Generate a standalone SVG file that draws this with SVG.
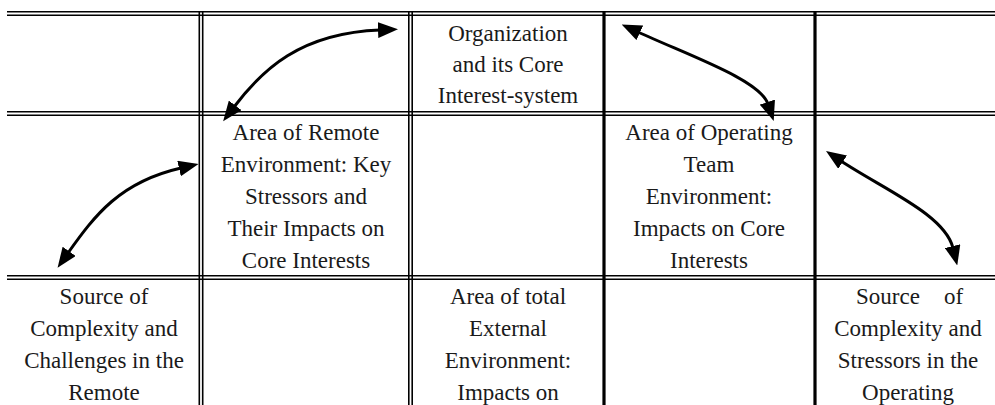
<svg xmlns="http://www.w3.org/2000/svg" width="995" height="405" viewBox="0 0 995 405">
<style>
.ln{stroke:#000;stroke-width:1.6;fill:none}
.tk{stroke:#000;stroke-width:3.2;fill:none}
.t{font-family:"Liberation Serif","Times New Roman",serif;font-size:23px;fill:#1a1a1a;text-anchor:middle}
.ts{font-family:"Liberation Serif","Times New Roman",serif;font-size:23px;fill:#1a1a1a}
.ar{stroke:#000;stroke-width:3;fill:none;marker-start:url(#ah);marker-end:url(#ah)}
</style>
<defs>
<marker id="ah" viewBox="0 0 20 16" refX="2" refY="8" markerWidth="20" markerHeight="16" markerUnits="userSpaceOnUse" orient="auto-start-reverse">
<path d="M0,0 L20,8 L0,16 z" fill="#000"/>
</marker>
</defs>
<rect width="995" height="405" fill="#fff"/>
<g id="grid">
<line class="ln" x1="7" y1="11.8" x2="995" y2="11.8"/>
<line class="ln" x1="7" y1="15.2" x2="995" y2="15.2"/>
<line class="ln" x1="7" y1="111.8" x2="995" y2="111.8"/>
<line class="ln" x1="7" y1="115.2" x2="995" y2="115.2"/>
<line class="ln" x1="7" y1="275.8" x2="995" y2="275.8"/>
<line class="ln" x1="7" y1="279.2" x2="995" y2="279.2"/>
<line class="ln" x1="199.3" y1="11" x2="199.3" y2="405"/>
<line class="ln" x1="202.7" y1="11" x2="202.7" y2="405"/>
<line class="ln" x1="408.8" y1="11" x2="408.8" y2="405"/>
<line class="ln" x1="412.2" y1="11" x2="412.2" y2="405"/>
<line class="tk" x1="604" y1="11" x2="604" y2="405"/>
<line class="tk" x1="815" y1="11" x2="815" y2="405"/>
</g>
<g id="organization">
<text class="t" x="508" y="41">Organization</text>
<text class="t" x="508" y="72">and its Core</text>
<text class="t" x="508" y="103">Interest-system</text>
</g>
<g id="remote-area">
<text class="t" x="306" y="140">Area of Remote</text>
<text class="t" x="306" y="172">Environment: Key</text>
<text class="t" x="306" y="204">Stressors and</text>
<text class="t" x="306" y="236">Their Impacts on</text>
<text class="t" x="306" y="268">Core Interests</text>
</g>
<g id="operating-area">
<text class="t" x="709" y="140">Area of Operating</text>
<text class="t" x="709" y="172">Team</text>
<text class="t" x="709" y="204">Environment:</text>
<text class="t" x="709" y="236">Impacts on Core</text>
<text class="t" x="709" y="268">Interests</text>
</g>
<g id="remote-source">
<text class="t" x="104" y="304">Source of</text>
<text class="t" x="104" y="336">Complexity and</text>
<text class="t" x="104" y="368">Challenges in the</text>
<text class="t" x="104" y="400">Remote</text>
</g>
<g id="external-area">
<text class="t" x="508" y="304">Area of total</text>
<text class="t" x="508" y="336">External</text>
<text class="t" x="508" y="368">Environment:</text>
<text class="t" x="508" y="400">Impacts on</text>
</g>
<g id="operating-source">
<text class="ts" y="304"><tspan x="856">Source</tspan><tspan x="944">of</tspan></text>
<text class="t" x="908" y="336">Complexity and</text>
<text class="t" x="908" y="368">Stressors in the</text>
<text class="t" x="908" y="400">Operating</text>
</g>
<g id="connectors">
<path class="ar" d="M234,107 C262,70 300,33 380,30"/>
<path class="ar" d="M638,32 C690,56 760,80 768,104"/>
<path class="ar" d="M68,253 C95,215 120,182 181,168"/>
<path class="ar" d="M841,161 C885,190 945,215 953,248"/>
</g>
</svg>
